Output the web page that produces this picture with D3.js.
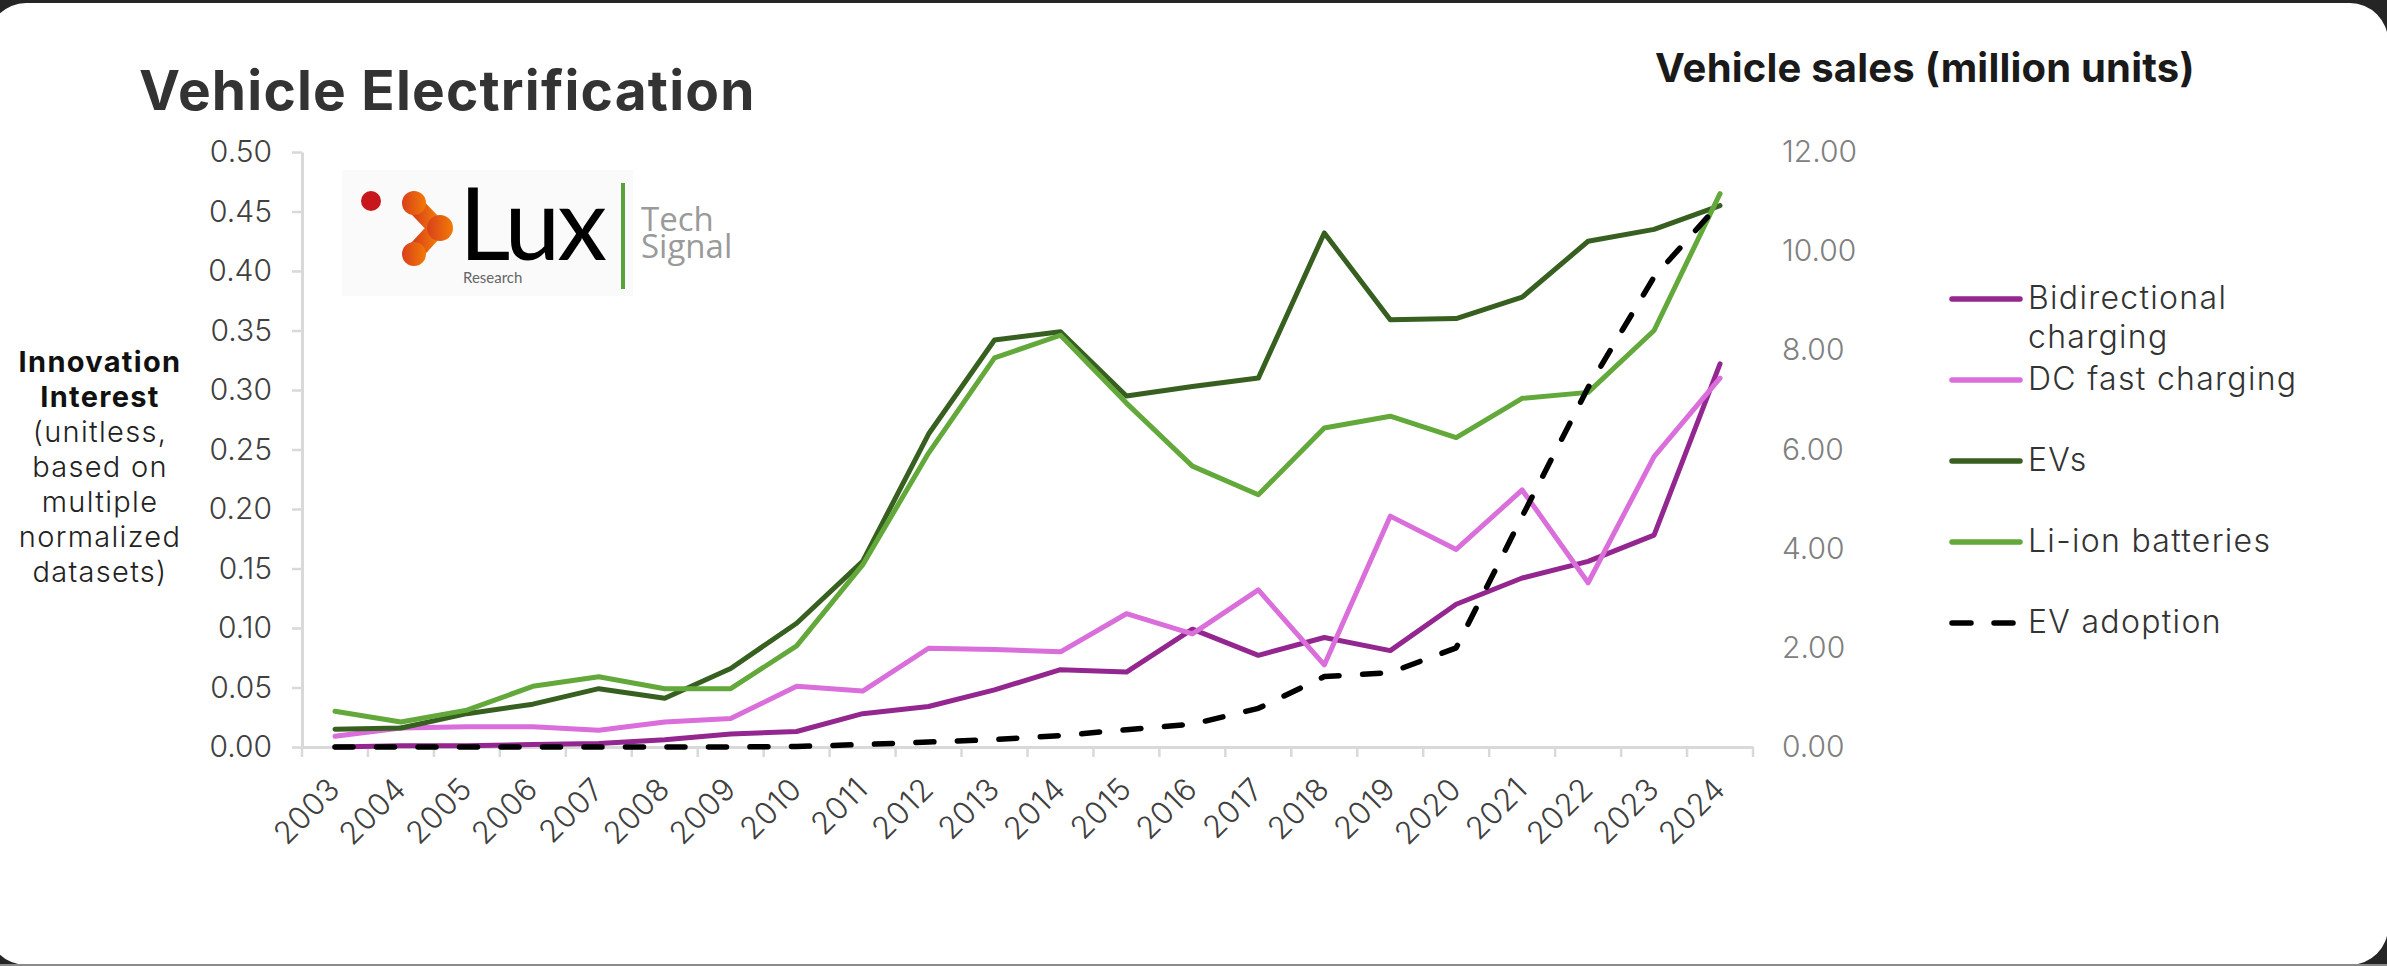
<!DOCTYPE html>
<html>
<head>
<meta charset="utf-8">
<script src="https://cdn.jsdelivr.net/npm/d3@7"></script>
<style>
  html, body { margin: 0; padding: 0; background: #252525; }
  svg { display: block; }
</style>
</head>
<body>
<svg id="chart" width="2387" height="966"></svg>
<script>
// Years on the category axis
const years = ["2003","2004","2005","2006","2007","2008","2009","2010","2011","2012","2013",
               "2014","2015","2016","2017","2018","2019","2020","2021","2022","2023","2024"];

// Innovation interest (left axis, unitless)
const bidirectional = [0.000,0.001,0.001,0.002,0.003,0.006,0.011,0.013,0.028,0.034,0.048,
                       0.065,0.063,0.099,0.077,0.092,0.081,0.120,0.142,0.156,0.178,0.322];
const dcFast        = [0.009,0.016,0.017,0.017,0.014,0.021,0.024,0.051,0.047,0.083,0.082,
                       0.080,0.112,0.095,0.132,0.069,0.194,0.166,0.216,0.138,0.244,0.310];
const evs           = [0.015,0.016,0.028,0.036,0.049,0.041,0.066,0.104,0.156,0.263,0.342,
                       0.349,0.295,0.303,0.310,0.432,0.359,0.360,0.378,0.425,0.435,0.455];
const liIon         = [0.030,0.021,0.031,0.051,0.059,0.049,0.049,0.085,0.153,0.247,0.327,
                       0.346,0.289,0.236,0.212,0.268,0.278,0.260,0.293,0.298,0.350,0.465];

// EV sales (right axis, million units)
const evAdoption    = [0,0,0,0,0,0,0,0.01,0.05,0.10,0.15,
                       0.23,0.35,0.46,0.78,1.42,1.50,2.00,4.65,7.25,9.48,10.97];

// Axis ticks
const leftTicks  = [0,0.05,0.10,0.15,0.20,0.25,0.30,0.35,0.40,0.45,0.50];
const rightTicks = [0,2,4,6,8,10,12];

const series = [
  { name: ["Bidirectional", "charging"], values: bidirectional, color: "#93278F", axis: "left" },
  { name: ["DC fast charging"],          values: dcFast,        color: "#DA6EDA", axis: "left" },
  { name: ["EVs"],                       values: evs,           color: "#375F1F", axis: "left" },
  { name: ["Li-ion batteries"],          values: liIon,         color: "#63A83A", axis: "left" },
  { name: ["EV adoption"],               values: evAdoption,    color: "#000000", axis: "right", dashed: true }
];

const svg = d3.select("#chart");
const FONT = "Inter, 'Open Sans', sans-serif";

// Card background
svg.append("rect").attr("x", -12).attr("y", 3).attr("width", 2400).attr("height", 962)
   .attr("rx", 38).attr("fill", "#ffffff");
svg.append("line").attr("x1", 0).attr("x2", 2387).attr("y1", 965).attr("y2", 965)
   .attr("stroke", "#8a8a8a").attr("stroke-width", 2);

// Scales
const x = d3.scaleBand().domain(years).range([302, 1753]);
const yL = d3.scaleLinear().domain([0, 0.5]).range([747, 152]);
const yR = d3.scaleLinear().domain([0, 12]).range([747, 152]);
const cx = d => x(d) + x.bandwidth() / 2;

// Left axis
const gL = svg.append("g").attr("transform", "translate(302,0)")
  .call(d3.axisLeft(yL).tickValues(leftTicks).tickFormat(d3.format(".2f"))
          .tickSize(10).tickSizeOuter(0).tickPadding(20));
gL.select(".domain").attr("stroke", "#d9d9d9").attr("stroke-width", 3);
gL.selectAll(".tick line").attr("stroke", "#d9d9d9").attr("stroke-width", 2.5);
gL.selectAll(".tick text").attr("font-family", FONT).attr("font-weight", 300)
  .attr("font-size", 30).attr("fill", "#404040");

// Right axis (labels only)
const gR = svg.append("g").attr("transform", "translate(1753,0)")
  .call(d3.axisRight(yR).tickValues(rightTicks).tickFormat(d3.format(".2f"))
          .tickSize(0).tickPadding(29));
gR.select(".domain").remove();
gR.selectAll(".tick text").attr("font-family", FONT).attr("font-weight", 300)
  .attr("font-size", 30).attr("fill", "#808080");

// Bottom axis: labels at category centres, ticks at category boundaries
const gX = svg.append("g").attr("transform", "translate(0,747)")
  .call(d3.axisBottom(x).tickSize(0).tickSizeOuter(0).tickPadding(0));
gX.select(".domain").attr("stroke", "#d9d9d9").attr("stroke-width", 3);
gX.selectAll(".tick text")
  .attr("font-family", FONT).attr("font-weight", 300).attr("font-size", 31).attr("fill", "#404040")
  .attr("letter-spacing", 0.5)
  .attr("text-anchor", "end").attr("dy", 0).attr("y", 0)
  .attr("transform", "translate(7,44) rotate(-45)");
const bounds = years.map(d => x(d)).concat([x.range()[1]]);
gX.selectAll("line.bound").data(bounds).enter().append("line")
  .attr("class", "bound").attr("x1", d => d).attr("x2", d => d)
  .attr("y1", 0).attr("y2", 10).attr("stroke", "#d9d9d9").attr("stroke-width", 2.5);

// Series lines
series.forEach(s => {
  const yS = s.axis === "left" ? yL : yR;
  const line = d3.line().x((v, i) => cx(years[i])).y(v => yS(v));
  svg.append("path").datum(s.values).attr("d", line)
    .attr("fill", "none").attr("stroke", s.color).attr("stroke-width", s.dashed ? 5.5 : 5)
    .attr("stroke-linejoin", "round").attr("stroke-linecap", "round")
    .attr("stroke-dasharray", s.dashed ? "18 23.5" : null);
});

// Titles
svg.append("text").attr("x", 139).attr("y", 110).text("Vehicle Electrification")
  .attr("font-family", FONT).attr("font-weight", 700).attr("font-size", 55)
  .attr("letter-spacing", 1.2).attr("fill", "#333333");
svg.append("text").attr("x", 1655).attr("y", 82).text("Vehicle sales (million units)")
  .attr("font-family", FONT).attr("font-weight", 700).attr("font-size", 40)
  .attr("letter-spacing", 0.2).attr("fill", "#1a1a1a");

// Left axis title
const yTitle = [
  { t: "Innovation", b: true }, { t: "Interest", b: true }, { t: "(unitless,", b: false },
  { t: "based on", b: false }, { t: "multiple", b: false }, { t: "normalized", b: false },
  { t: "datasets)", b: false }
];
svg.append("g").selectAll("text").data(yTitle).enter().append("text")
  .attr("x", 100).attr("y", (d, i) => 372 + i * 35).attr("text-anchor", "middle")
  .attr("font-family", FONT).attr("font-size", 29).attr("letter-spacing", 1.3)
  .attr("font-weight", d => d.b ? 700 : 300).attr("fill", d => d.b ? "#111111" : "#222222")
  .text(d => d.t);

// Legend
const lg = svg.append("g").attr("transform", "translate(1950,299)");
series.forEach((s, i) => {
  const g = lg.append("g").attr("transform", `translate(0,${i * 81})`);
  g.append("line").attr("x1", 2).attr("x2", 70).attr("y1", 0).attr("y2", 0)
    .attr("stroke", s.color).attr("stroke-width", 5.5).attr("stroke-linecap", "round")
    .attr("stroke-dasharray", s.dashed ? "19 23" : null);
  s.name.forEach((t, j) => {
    g.append("text").attr("x", 78).attr("y", 10 + j * 39).text(t)
      .attr("font-family", FONT).attr("font-weight", 300).attr("font-size", 32)
      .attr("letter-spacing", 1.3).attr("fill", "#333333");
  });
});

// Logo
const logo = svg.append("g");
logo.append("rect").attr("x", 342).attr("y", 170).attr("width", 291).attr("height", 126).attr("fill", "#fafafa");
const defs = svg.append("defs");
const grad = defs.append("linearGradient").attr("id", "luxOrange")
  .attr("x1", "0%").attr("x2", "100%").attr("y1", "0%").attr("y2", "0%");
grad.append("stop").attr("offset", "0%").attr("stop-color", "#d8401c");
grad.append("stop").attr("offset", "100%").attr("stop-color", "#f27a06");
logo.append("circle").attr("cx", 371).attr("cy", 201).attr("r", 10).attr("fill", "#c8161d");
logo.append("path").attr("d", "M414,204 L437,228 L414,253")
  .attr("fill", "none").attr("stroke", "url(#luxOrange)").attr("stroke-width", 18)
  .attr("stroke-linecap", "round").attr("stroke-linejoin", "round");
[[414,203,12],[440,228,13],[414,254,12]].forEach(c => {
  logo.append("circle").attr("cx", c[0]).attr("cy", c[1]).attr("r", c[2]).attr("fill", "url(#luxOrange)");
});
// Wordmark: "Lux" with "Research" beneath, set as one text block
const word = logo.append("text").attr("font-family", "Lato, sans-serif");
word.append("tspan").attr("x", 459).attr("y", 260).text("Lux")
  .attr("font-weight", 400).attr("font-size", 100).attr("letter-spacing", -3).attr("fill", "#000000");
word.append("tspan").attr("x", 463).attr("y", 283).text("Research")
  .attr("font-size", 15).attr("letter-spacing", 0).attr("fill", "#666666");
logo.append("rect").attr("x", 621).attr("y", 183).attr("width", 4).attr("height", 106).attr("fill", "#58a23a");
// "Tech Signal" stacked on two lines
const sig = logo.append("text").attr("font-family", "'Open Sans', sans-serif")
  .attr("font-size", 33).attr("fill", "#9a9a9a");
sig.append("tspan").attr("x", 641).attr("y", 231).text("Tech");
sig.append("tspan").attr("x", 641).attr("y", 258).text("Signal");
</script>
</body>
</html>
